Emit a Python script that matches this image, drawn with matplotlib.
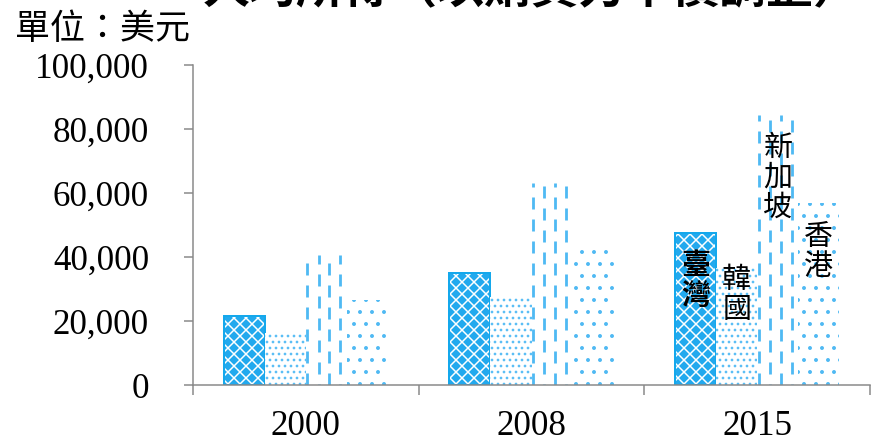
import matplotlib
matplotlib.use("Agg")
import matplotlib.pyplot as plt
import numpy as np

plt.rcParams['font.family'] = ['Liberation Serif', 'Noto Sans CJK TC']
plt.rcParams['lines.scale_dashes'] = False
plt.rcParams['hatch.linewidth'] = 1.5

years = ['2000', '2008', '2015']
countries = ['臺灣', '韓國', '新加坡', '香港']
taiwan = [21700, 35000, 47400]
korea = [16300, 27500, 36600]
singapore = [40600, 63100, 84400]
hongkong = [26600, 44400, 56900]
yticks = [0, 20000, 40000, 60000, 80000, 100000]
label_y = [32800, 28200, 64700, 41700]
title = '人均所得（以購買力平價調整）'
unit = '單位：美元'

DPI = 72
fig = plt.figure(figsize=(873 / DPI, 445 / DPI), dpi=DPI)
ax = fig.add_axes([193 / 873, 60 / 445, 677 / 873, 320 / 445])

x = np.arange(len(years))
w = 0.182
offs = np.array([-1.5, -0.5, 0.5, 1.5]) * w
light = '#4FB9F3'

# Taiwan: cross-hatched filled bar with border
ax.bar(x + offs[0], taiwan, w, color='#22A9EE', edgecolor='white', hatch='xx', linewidth=0)
ax.bar(x + offs[0], taiwan, w, fill=False, edgecolor='#14A8EC', linewidth=2)
# Korea: dense dots
ax.bar(x + offs[1], korea, w, facecolor='white', edgecolor='#5CBEF5', hatch='..', linewidth=0)
# Singapore: dashed vertical lines
sg = ax.bar(x + offs[2], singapore, w, facecolor='none', edgecolor='none', linewidth=0)
for rect in sg:
    x0, wd, h = rect.get_x(), rect.get_width(), rect.get_height()
    for k, frac in enumerate([0.04, 0.31, 0.57, 0.84]):
        off = 0 if k % 2 == 0 else 11
        ax.vlines(x0 + frac * wd, 0, h, colors=light, linewidth=2.8,
                  linestyles=[(off, (12, 10))])
# Hong Kong: sparse dots
ax.bar(x + offs[3], hongkong, w, facecolor='white', edgecolor=light, hatch='.', linewidth=0)

# vertical labels in 2015 group
for i, (name, yy) in enumerate(zip(countries, label_y)):
    ax.text(x[2] + offs[i], yy, '\n'.join(name), ha='center', va='center',
            fontsize=29, family=['Noto Sans CJK TC'], linespacing=1.0,
            fontweight='bold' if i == 0 else 'normal', color='black')

ax.set_xlim(-0.5, 2.5)
ax.set_ylim(0, 100000)
ax.set_yticks(yticks)
ax.set_yticklabels([f'{v:,}' for v in yticks])
ax.set_xticks(x)
ax.set_xticklabels(years)
ax.set_xticks([-0.5, 0.5, 1.5, 2.5], minor=True)
ax.tick_params(axis='y', length=9, width=1.5, color='#888888', pad=35, labelsize=35)
ax.tick_params(axis='x', which='major', length=0, pad=25, labelsize=35)
ax.tick_params(axis='x', which='minor', length=10, width=1.5, color='#888888')
for s in ['top', 'right']:
    ax.spines[s].set_visible(False)
for s in ['left', 'bottom']:
    ax.spines[s].set_color('#888888')
    ax.spines[s].set_linewidth(1.5)

fig.text(203 / 873, 1 - 3 / 445, title, fontsize=47, family=['Noto Sans CJK TC'],
         fontweight='bold', ha='left', va='baseline')
fig.text(15 / 873, 1 - 39 / 445, unit, fontsize=35, family=['Noto Sans CJK TC'],
         ha='left', va='baseline')

fig.savefig('out.png', dpi=DPI)
